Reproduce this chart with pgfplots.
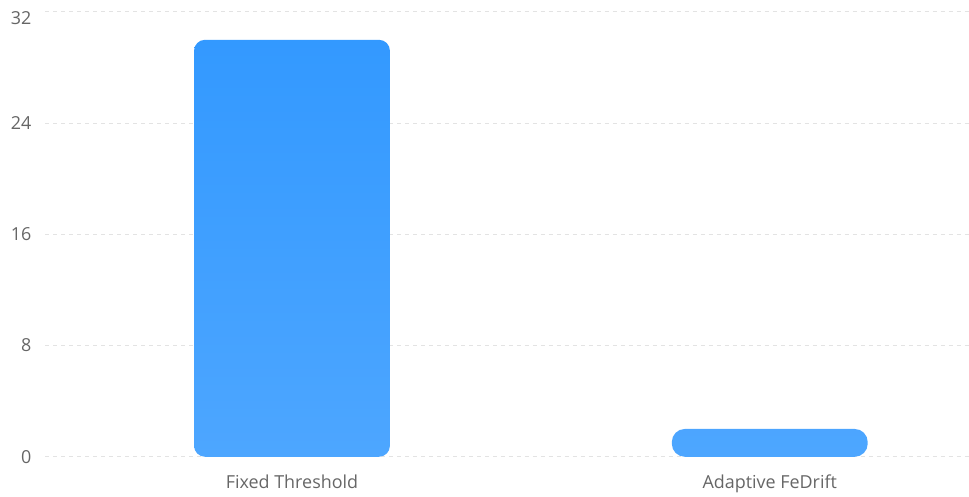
\documentclass[border=0pt]{standalone}
\usepackage{pgfplots}
\pgfplotsset{compat=1.18}
\usepackage{fontspec}
\setmainfont{Open Sans}
\definecolor{bartop}{HTML}{3399FF}
\definecolor{barbot}{HTML}{4DA6FF}
\definecolor{gridc}{HTML}{E3E3E3}
\definecolor{labc}{HTML}{666666}
\begin{document}
\begin{tikzpicture}
\begin{axis}[
  scale only axis,
  width=924bp, height=445bp,
  xmin=-0.517, xmax=1.416,
  ymin=0, ymax=32,
  ytick={0,8,16,24,32},
  xtick={0,1},
  xticklabels={Fixed Threshold, Adaptive FeDrift},
  axis line style={draw=none},
  major tick length=0pt,
  ymajorgrids,
  grid style={gridc, line width=1bp, dash pattern=on 4bp off 4bp},
  tick label style={font=\fontsize{18}{21}\selectfont, text=labc},
  /pgf/number format/assume math mode=true,
  yticklabel style={anchor=east, xshift=-10bp},
  yticklabel={\pgfmathparse{\tick>31?1:0}\ifnum\pgfmathresult=1 \raisebox{-6bp}[\height][\depth]{\pgfmathprintnumber{\tick}}\else\pgfmathprintnumber{\tick}\fi},
  xticklabel style={yshift=-15bp},
  clip=false,
]
\addplot[ybar, bar width=196bp, bar shift=0pt, draw=none, top color=bartop, bottom color=barbot, rounded corners=11bp] coordinates {(0,30)};
\addplot[ybar, bar width=196bp, bar shift=0pt, draw=none, top color=barbot!95!bartop, bottom color=barbot, rounded corners=13bp] coordinates {(1,2)};
\coordinate (O) at (rel axis cs:0,0);
\end{axis}
\path (O) ++(-45bp,-35bp) rectangle ++(969bp,492bp);
\end{tikzpicture}
\end{document}
